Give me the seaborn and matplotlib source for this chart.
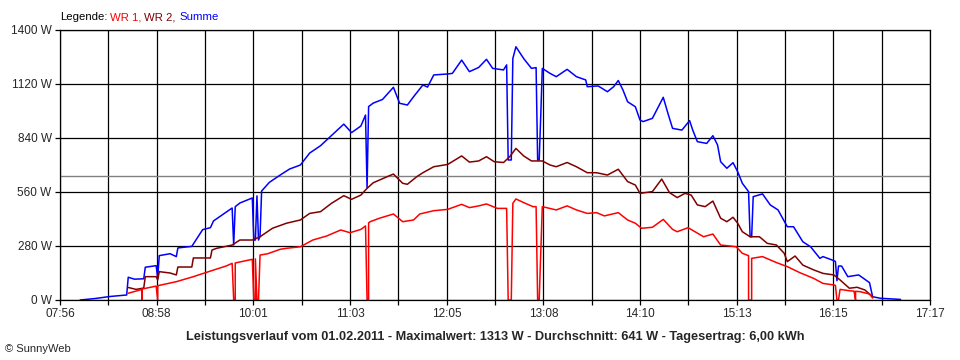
import numpy as np
import pandas as pd
import matplotlib
matplotlib.use("Agg")
import matplotlib.pyplot as plt
import seaborn as sns

# --- Daten ---
summe_zeit = ["08:09", "08:19", "08:28", "08:39", "08:40", "08:44", "08:50", "08:51", "08:58", "08:59",
              "09:00", "09:07", "09:11", "09:12", "09:21", "09:28", "09:33", "09:35", "09:47", "09:48",
              "09:49", "09:52", "10:00", "10:01", "10:02", "10:03", "10:04", "10:05", "10:06", "10:11",
              "10:18", "10:24", "10:31", "10:37", "10:44", "10:48", "10:59", "11:04", "11:10", "11:13",
              "11:14", "11:15", "11:18", "11:24", "11:31", "11:35", "11:40", "11:44", "11:50", "11:53",
              "11:57", "12:06", "12:09", "12:15", "12:20", "12:26", "12:31", "12:35", "12:42", "12:44",
              "12:45", "12:47", "12:48", "12:50", "12:55", "13:00", "13:03", "13:04", "13:05", "13:06",
              "13:07", "13:12", "13:16", "13:23", "13:29", "13:35", "13:36", "13:43", "13:49", "13:53",
              "13:56", "13:59", "14:02", "14:07", "14:10", "14:12", "14:18", "14:25", "14:28", "14:31",
              "14:37", "14:42", "14:44", "14:47", "14:53", "14:57", "15:00", "15:02", "15:06", "15:10",
              "15:13", "15:16", "15:20", "15:21", "15:22", "15:23", "15:29", "15:34", "15:39", "15:45",
              "15:49", "15:55", "16:00", "16:06", "16:08", "16:15", "16:16", "16:17", "16:18", "16:20", "16:24",
              "16:31", "16:38", "16:40", "16:45", "16:58"]
summe_w = [0, 8, 18, 26, 118, 108, 110, 170, 178, 113,
           230, 240, 225, 270, 278, 365, 375, 410, 477, 285,
           484, 503, 529, 311, 311, 540, 311, 330, 565, 610,
           648, 679, 700, 762, 800, 830, 912, 868, 902, 959,
           581, 1003, 1021, 1040, 1103, 1020, 1011, 1054, 1115, 1104,
           1167, 1172, 1175, 1244, 1184, 1206, 1248, 1201, 1193, 1219,
           726, 726, 1252, 1313, 1252, 1201, 1205, 726, 726, 955,
           1201, 1175, 1158, 1196, 1158, 1141, 1106, 1110, 1080, 1106,
           1138, 1089, 1028, 1002, 933, 925, 942, 1051, 968, 890,
           881, 930, 881, 821, 812, 852, 804, 717, 683, 712,
           665, 605, 562, 328, 328, 536, 550, 493, 467, 380,
           380, 302, 276, 216, 225, 204, 200, 100, 176, 176, 121,
           130, 90, 17, 9, 3]

wr2_zeit = ["08:40", "08:45", "08:50", "08:51", "08:58", "08:59", "09:00", "09:07", "09:11", "09:12",
            "09:21", "09:22", "09:33", "09:34", "09:37", "09:47", "09:52", "10:00", "10:05", "10:13",
            "10:22", "10:31", "10:37", "10:44", "10:51", "10:59", "11:04", "11:10", "11:14", "11:18",
            "11:28", "11:31", "11:37", "11:40", "11:46", "11:50", "11:57", "12:06", "12:15", "12:20",
            "12:26", "12:31", "12:36", "12:42", "12:46", "12:50", "12:55", "13:00", "13:07", "13:12",
            "13:16", "13:23", "13:29", "13:36", "13:42", "13:49", "13:56", "14:02", "14:07", "14:10",
            "14:18", "14:24", "14:29", "14:34", "14:39", "14:43", "14:47", "14:52", "14:57", "15:02",
            "15:06", "15:10", "15:13", "15:16", "15:21", "15:27", "15:32", "15:38", "15:43", "15:45",
            "15:50", "15:55", "16:02", "16:08", "16:15", "16:19", "16:25", "16:30", "16:35", "16:40"]
wr2_w = [65, 55, 62, 121, 121, 104, 147, 140, 130, 171,
         171, 218, 218, 259, 268, 285, 311, 311, 328, 372,
         398, 415, 449, 458, 501, 541, 522, 544, 579, 608,
         643, 653, 605, 600, 639, 660, 691, 703, 747, 715,
         721, 743, 717, 713, 743, 786, 747, 721, 721, 700,
         691, 713, 691, 660, 660, 648, 678, 614, 596, 553,
         562, 627, 557, 531, 553, 544, 493, 484, 513, 424,
         406, 429, 398, 354, 328, 328, 294, 285, 242, 199,
         228, 181, 156, 138, 130, 104, 61, 66, 52, 17]

wr1_zeit = ["08:40", "08:49", "08:49", "08:49", "08:58", "08:59", "08:59", "09:11", "09:22", "09:33",
            "09:43", "09:47", "09:48", "09:49", "09:49", "10:00", "10:01", "10:02", "10:02", "10:03",
            "10:04", "10:05", "10:10", "10:18", "10:22", "10:31", "10:39", "10:48", "10:57", "11:03",
            "11:10", "11:13", "11:14", "11:15", "11:15", "11:16", "11:22", "11:31", "11:37", "11:44",
            "11:48", "11:57", "12:06", "12:15", "12:20", "12:26", "12:31", "12:38", "12:44", "12:45",
            "12:47", "12:48", "12:50", "12:55", "13:01", "13:03", "13:04", "13:05", "13:06", "13:07", "13:16",
            "13:23", "13:29", "13:36", "13:42", "13:47", "13:56", "14:02", "14:07", "14:11", "14:18",
            "14:25", "14:31", "14:34", "14:41", "14:51", "14:57", "15:02", "15:08", "15:12", "15:16",
            "15:20", "15:20", "15:22", "15:22", "15:29", "15:38", "15:45", "15:53", "16:02", "16:08",
            "16:15", "16:16", "16:17", "16:18", "16:19", "16:25", "16:28", "16:29", "16:29", "16:32", "16:38",
            "16:40"]
wr1_w = [35, 55, 0, 57, 72, 0, 74, 95, 121, 150,
         176, 190, 0, 0, 192, 211, 0, 0, 213, 0,
         0, 233, 240, 263, 268, 276, 311, 332, 363, 349,
         366, 384, 0, 0, 400, 406, 424, 446, 406, 415,
         446, 463, 470, 496, 479, 488, 498, 475, 475, 0,
         0, 501, 524, 505, 484, 484, 0, 0, 244, 484, 467,
         488, 467, 449, 453, 436, 453, 415, 398, 372, 377,
         418, 366, 354, 375, 328, 342, 285, 280, 276, 242,
         230, 0, 0, 216, 225, 194, 173, 142, 112, 86,
         78, 76, 0, 0, 55, 48, 46, 0, 45, 43, 31,
         10]

x_labels = ["07:56", "08:58", "10:01", "11:03", "12:05", "13:08", "14:10", "15:13", "16:15", "17:17"]
y_ticks = [0, 280, 560, 840, 1120, 1400]
durchschnitt = 641

titel = ("Leistungsverlauf vom 01.02.2011 - Maximalwert: 1313 W - "
         "Durchschnitt: 641 W - Tagesertrag: 6,00 kWh")

farben = {"WR 1": "#ff0000", "WR 2": "#800000", "Summe": "#0000ff"}

assert len(summe_zeit) == len(summe_w)
assert len(wr2_zeit) == len(wr2_w)
assert len(wr1_zeit) == len(wr1_w)


def in_minuten(zeiten):
    t = pd.to_datetime(pd.Series(zeiten), format="%H:%M")
    return (t.dt.hour * 60 + t.dt.minute).to_numpy()


teile = []
for name, zeit, werte in [("Summe", summe_zeit, summe_w),
                          ("WR 2", wr2_zeit, wr2_w),
                          ("WR 1", wr1_zeit, wr1_w)]:
    teile.append(pd.DataFrame({"minute": in_minuten(zeit), "watt": werte, "serie": name}))
df = pd.concat(teile, ignore_index=True)

sns.set_style("white")
plt.rcParams["font.family"] = ["Liberation Sans", "DejaVu Sans"]

fig = plt.figure(figsize=(9.6, 3.6), dpi=100)
ax = fig.add_axes([60 / 960, 60 / 360, 870 / 960, 270 / 360])

# Durchschnittslinie
ax.axhline(durchschnitt, color="#808080", lw=1.0, zorder=1.5)

sns.lineplot(data=df, x="minute", y="watt", hue="serie",
             hue_order=["Summe", "WR 2", "WR 1"], palette=farben,
             estimator=None, sort=False, linewidth=1.1, legend=False, ax=ax)

x_min = in_minuten(x_labels[:1])[0]
x_max = in_minuten(x_labels[-1:])[0]
major = np.linspace(x_min, x_max, len(x_labels))
minor = (major[:-1] + major[1:]) / 2

ax.set_xlim(x_min, x_max)
ax.set_ylim(y_ticks[0], y_ticks[-1])
ax.set_xticks(major)
ax.set_xticklabels(x_labels)
ax.set_xticks(minor, minor=True)
ax.set_yticks(y_ticks)
ax.set_yticklabels([f"{v} W" for v in y_ticks])
ax.set_xlabel("")
ax.set_ylabel("")

ax.set_axisbelow(True)
ax.grid(which="both", axis="x", color="black", lw=0.9)
ax.grid(which="major", axis="y", color="black", lw=0.9)
for s in ax.spines.values():
    s.set_color("black")
    s.set_linewidth(0.9)

ax.tick_params(which="both", direction="out", length=3.5, width=0.9, color="black",
               labelsize=8.5, pad=2.5, bottom=True, left=True)

# Legende oben links
fig.text(60 / 960, 1 - 17 / 360, "Legende:", fontsize=8.2, va="center", color="black")
fig.text(110 / 960, 1 - 17 / 360, "WR 1,", fontsize=8.2, va="center", color=farben["WR 1"])
fig.text(144 / 960, 1 - 17 / 360, "WR 2,", fontsize=8.2, va="center", color=farben["WR 2"])
fig.text(179 / 960, 1 - 17 / 360, "Summe", fontsize=8.2, va="center", color=farben["Summe"])

fig.text(495 / 960, 1 - 337 / 360, titel, fontsize=9.2, fontweight="bold",
         ha="center", va="center")
fig.text(5 / 960, 1 - 349 / 360, "© SunnyWeb", fontsize=8, va="center")

fig.savefig("out.png", dpi=100)
